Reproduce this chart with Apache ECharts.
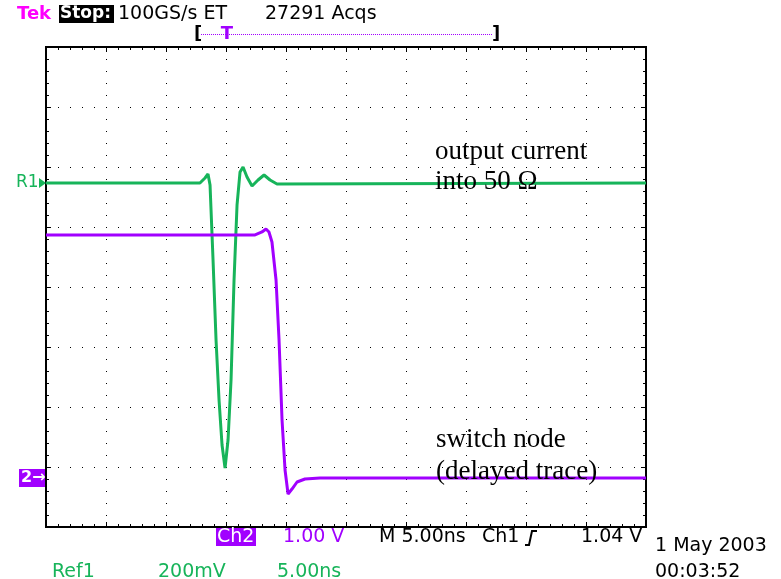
<!DOCTYPE html>
<html>
<head>
<meta charset="utf-8">
<script src="https://cdn.jsdelivr.net/npm/echarts@6/dist/echarts.min.js"></script>
<style>
  html, body { margin: 0; padding: 0; background: #fff; }
  #scope { width: 781px; height: 579px; }
</style>
</head>
<body>
<div id="scope"></div>
<script>
// Time base: 5 ns/div over 10 divisions; vertical scale in divisions (8 div).
const timeMin = 0, timeMax = 50, timePerDiv = 5;
const divMin = -4, divMax = 4;

// Ref1: output current into 50 ohm (time in ns, level in divisions)
const ref1Time  = [0, 12.83, 13.25, 13.5, 13.67, 13.92, 14.17, 14.42, 14.67, 14.92, 15.17, 15.42, 15.67, 15.92, 16.17, 16.42, 16.75, 17.17, 17.67, 18.17, 18.67, 19.25, 50];
const ref1Level = [1.733, 1.733, 1.817, 1.883, 1.70, 0.45, -0.883, -1.883, -2.633, -3.017, -2.55, -1.55, 0.117, 1.367, 1.917, 2.0, 1.833, 1.683, 1.783, 1.867, 1.783, 1.717, 1.733];
const ref1Offset = 1.733;

// Ch2: switch node (delayed trace)
const ch2Time  = [0, 17.42, 18.0, 18.33, 18.58, 18.83, 19.17, 19.42, 19.67, 19.92, 20.17, 20.5, 20.92, 21.58, 22.83, 50];
const ch2Level = [0.867, 0.867, 0.917, 0.967, 0.917, 0.75, 0.117, -0.883, -2.217, -3.05, -3.45, -3.367, -3.25, -3.2, -3.183, -3.183];
const ch2Ground = -3.183;

// Readout texts
const headerTexts = ['100GS/s ET', '27291 Acqs'];
const readoutRow  = ['1.00 V', 'M 5.00ns', 'Ch1', '1.04 V'];
const refRow      = ['Ref1', '200mV', '5.00ns'];
const dateLines   = ['1 May 2003', '00:03:52'];
const notes       = ['output current', 'into 50 Ω', 'switch node', '(delayed trace)'];
const triggerTime = 15.08;

const GREEN = '#17b45a', PURPLE = '#a100ff', MAGENTA = '#ff00ff';
const TEK_FONT = 'DejaVu Sans';
const TEK_SIZE = 19;

const zip = (xs, ys) => xs.map((x, i) => [x, ys[i]]);

const chart = echarts.init(document.getElementById('scope'), null, { renderer: 'canvas' });

function gridAxis(extra) {
  return Object.assign({
    type: 'value',
    axisLine: { show: false, onZero: false },
    axisLabel: { show: false },
    axisTick: { show: true, inside: true, length: 5, lineStyle: { color: '#000', width: 1 } },
    minorTick: { show: true, splitNumber: 5, length: 3, lineStyle: { color: '#000', width: 1 } },
    splitLine: { show: false },
    minorSplitLine: { show: false }
  }, extra);
}

const dotted = { show: true, lineStyle: { color: '#000', width: 1, type: [1, 11] } };

chart.setOption({
  animation: false,
  backgroundColor: '#fff',
  grid: { left: 46, top: 47, width: 600, height: 480, show: true, borderColor: '#000', borderWidth: 2, backgroundColor: 'transparent' },
  xAxis: [
    gridAxis({ min: timeMin, max: timeMax, interval: timePerDiv, position: 'bottom', splitLine: dotted }),
    gridAxis({ min: timeMin, max: timeMax, interval: timePerDiv, position: 'top' })
  ],
  yAxis: [
    gridAxis({ min: divMin, max: divMax, interval: 1, position: 'left', splitLine: dotted }),
    gridAxis({ min: divMin, max: divMax, interval: 1, position: 'right' })
  ],
  series: [
    {
      name: 'Ref1', type: 'line', xAxisIndex: 0, yAxisIndex: 0,
      data: zip(ref1Time, ref1Level), showSymbol: false, smooth: false,
      lineStyle: { color: GREEN, width: 3 }, z: 3
    },
    {
      name: 'Ch2', type: 'line', xAxisIndex: 0, yAxisIndex: 0,
      data: zip(ch2Time, ch2Level), showSymbol: false, smooth: false,
      lineStyle: { color: PURPLE, width: 3 }, z: 4
    }
  ]
});

const ref1Y = chart.convertToPixel({ yAxisIndex: 0 }, ref1Offset);
const ch2Y  = chart.convertToPixel({ yAxisIndex: 0 }, ch2Ground);
const trigX = chart.convertToPixel({ xAxisIndex: 0 }, triggerTime);

function txt(x, y, s, color, size, extra) {
  return {
    type: 'text', x: x, y: y, z: 10,
    style: Object.assign({ text: s, fill: color, font: (size || TEK_SIZE) + 'px "' + TEK_FONT + '"', textVerticalAlign: 'middle' }, extra || {})
  };
}
function serif(x, y, s) {
  return {
    type: 'text', x: x, y: y, z: 10,
    style: { text: s, fill: '#000', font: '27px "Liberation Serif"', textVerticalAlign: 'alphabetic' }
  };
}
const boldTek = (size) => 'bold ' + size + 'px "' + TEK_FONT + '"';

const g = [
  // header
  txt(17, 14, 'Tek', MAGENTA, 19, { font: boldTek(18) }),
  { type: 'rect', shape: { x: 59, y: 5, width: 55, height: 18 }, style: { fill: '#000' }, z: 9 },
  txt(60, 14, 'Stop:', '#fff', 17, { font: boldTek(17) }),
  txt(118, 14, headerTexts[0], '#000'),
  txt(265, 14, headerTexts[1], '#000'),
  // record bracket with trigger point
  txt(194, 34, '[', '#000', 17, { font: boldTek(18) }),
  txt(492, 34, ']', '#000', 17, { font: boldTek(18) }),
  { type: 'line', shape: { x1: 201, y1: 34.5, x2: 493, y2: 34.5 }, style: { stroke: PURPLE, lineWidth: 1, lineDash: [1, 1] }, z: 9 },
  txt(trigX, 34, 'T', PURPLE, 18, { textAlign: 'center', font: boldTek(18) }),
  // channel markers
  txt(16, ref1Y, 'R1', GREEN, 17),
  { type: 'polygon', shape: { points: [[39, ref1Y - 5], [46, ref1Y], [39, ref1Y + 5]] }, style: { fill: GREEN }, z: 10 },
  { type: 'rect', shape: { x: 19, y: ch2Y - 9, width: 26, height: 18 }, style: { fill: PURPLE }, z: 9 },
  txt(21, ch2Y, '2→', '#fff', 17, { font: boldTek(16) }),
  // bottom readout
  { type: 'rect', shape: { x: 216, y: 528, width: 40, height: 18 }, style: { fill: PURPLE }, z: 9 },
  txt(217, 537, 'Ch2', '#fff'),
  txt(283, 537, readoutRow[0], PURPLE),
  txt(379, 537, readoutRow[1], '#000'),
  txt(482, 537, readoutRow[2], '#000'),
  { type: 'polyline', shape: { points: [[525, 545], [529, 545], [532, 531], [537, 531]] }, style: { stroke: '#000', lineWidth: 2, fill: null }, z: 10 },
  txt(581, 537, readoutRow[3], '#000'),
  txt(655, 546, dateLines[0], '#000'),
  txt(655, 572, dateLines[1], '#000'),
  txt(52, 572, refRow[0], GREEN),
  txt(158, 572, refRow[1], GREEN),
  txt(277, 572, refRow[2], GREEN),
  // annotations
  serif(435, 138, notes[0]),
  serif(435, 168, notes[1]),
  serif(436, 426, notes[2]),
  serif(436, 458, notes[3])
];

chart.setOption({ graphic: { elements: g } });
</script>
</body>
</html>
